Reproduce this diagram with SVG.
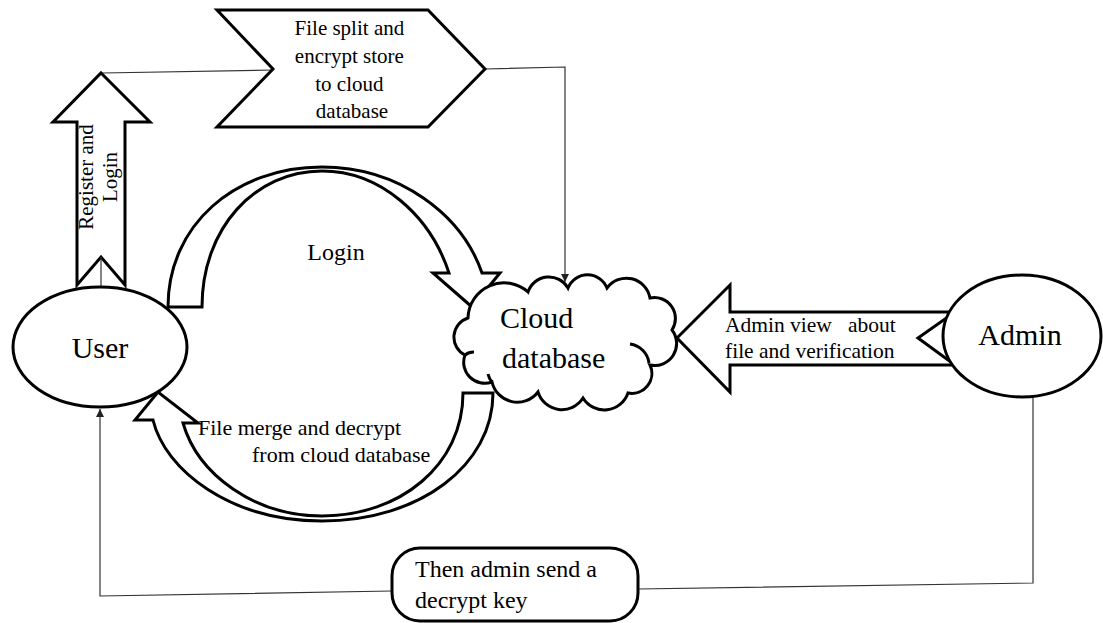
<svg xmlns="http://www.w3.org/2000/svg" width="1103" height="623" viewBox="0 0 1103 623">
  <style>
    .shape { fill: #fff; stroke: #000; stroke-width: 3; stroke-linejoin: miter; }
    .thin { fill: none; stroke: #333; stroke-width: 1.2; }
    .lbl { font-family: "Liberation Serif", "Times New Roman", serif; fill: #000; }
    .big { font-size: 30px; }
  </style>
  <defs>
    <marker id="tip" viewBox="0 0 10 10" refX="10" refY="5" markerWidth="8" markerHeight="8" markerUnits="userSpaceOnUse" orient="auto">
      <path d="M0,0 L10,5 L0,10 Z" fill="#222"/>
    </marker>
  </defs>

  <!-- thin connectors -->
  <g id="connectors">
    <path class="thin" d="M102,73 L273,70"/>
    <path class="thin" d="M485,69 L565,67 L565,282" marker-end="url(#tip)"/>
    <path class="thin" d="M1033,397 L1033,583 L638,589"/>
    <path class="thin" d="M392,591 L100,596 L100,409" marker-end="url(#tip)"/>
  </g>

  <!-- Register and Login block arrow -->
  <g id="register-arrow">
    <path class="shape" d="M101,73 L150,122 L125,122 L125,285 L101,257 L77,285 L77,122 L53,122 Z"/>
    <line x1="101" y1="257" x2="101" y2="287" stroke="#333" stroke-width="1.2"/>
    <text class="lbl" font-size="21" text-anchor="middle" transform="translate(93,177) rotate(-90)">Register and</text>
    <text class="lbl" font-size="21" text-anchor="middle" transform="translate(117,177) rotate(-90)">Login</text>
  </g>

  <!-- File split chevron -->
  <g id="split-chevron">
    <path class="shape" d="M217,10 L428,10 L485,69 L428,127 L217,127 L273,69 Z"/>
    <text class="lbl" font-size="21" text-anchor="middle">
      <tspan x="352" y="35">File split and</tspan>
      <tspan x="352" y="63">encrypt store</tspan>
      <tspan x="352" y="91">to cloud</tspan>
      <tspan x="352" y="118">database</tspan>
    </text>
  </g>

  <!-- Login curved arrow -->
  <g id="login-arrow">
    <path class="shape" d="M168,307 C168,225 235,167 322,167 C400,167 462,215 482,273 L500,273 L472,307 L433,273 L449,273 C430,215 380,171 322,171 C255,171 202,228 202,307 Z"/>
    <text class="lbl" font-size="24" x="336" y="260" text-anchor="middle">Login</text>
  </g>

  <!-- File merge curved arrow -->
  <g id="merge-arrow">
    <path class="shape" d="M463,393 L493,393 C493,465 420,521 322,521 C230,521 165,470 153,420 L135,420 L158,392 L198,423 L183,423 C198,475 255,516 322,516 C400,516 463,465 463,393 Z"/>
    <text class="lbl" font-size="22">
      <tspan x="198" y="435">File merge and decrypt</tspan>
      <tspan x="252" y="462">from cloud database</tspan>
    </text>
  </g>

  <!-- Admin view block arrow -->
  <g id="admin-arrow">
    <path class="shape" d="M677,338 L730,285 L730,312 L955,312 L918,338 L955,365 L730,365 L730,392 Z"/>
    <text class="lbl" font-size="21.5">
      <tspan x="725" y="332">Admin view</tspan><tspan x="848" y="332">about</tspan>
      <tspan x="725" y="358">file and verification</tspan>
    </text>
  </g>

  <!-- Cloud database -->
  <g id="cloud">
    <path class="shape" d="M468,318 A36,36 0 0 1 528,292 A22,22 0 0 1 568,288 A21,21 0 0 1 607,288 A24,24 0 0 1 650,298 A21,21 0 0 1 672,330 A22,22 0 0 1 650,365 A20,20 0 0 1 628,393 A25,25 0 0 1 583,398 A25,25 0 0 1 538,392 A26,26 0 0 1 492,382 A21,21 0 0 1 465,355 A20,20 0 0 1 468,318 Z"/>
    <path d="M630,344 A22,22 0 0 1 649,363" fill="none" stroke="#000" stroke-width="3"/>
    <path d="M492,382 A18,18 0 0 1 488,374" fill="none" stroke="#000" stroke-width="3"/>
    <path d="M465,355 A14,14 0 0 1 474,352" fill="none" stroke="#000" stroke-width="3"/>
    <text class="lbl big" x="500" y="328">Cloud</text>
    <text class="lbl big" x="502" y="368">database</text>
  </g>

  <!-- User -->
  <g id="user">
    <ellipse class="shape" cx="100" cy="347" rx="87" ry="60"/>
    <text class="lbl big" x="100" y="358" text-anchor="middle">User</text>
  </g>

  <!-- Admin -->
  <g id="admin">
    <ellipse class="shape" cx="1022" cy="336" rx="79" ry="61"/>
    <text class="lbl big" x="1020" y="345" text-anchor="middle">Admin</text>
  </g>

  <!-- Decrypt key message -->
  <g id="key-message">
    <rect class="shape" x="392" y="548" width="246" height="73" rx="28" ry="28"/>
    <text class="lbl" font-size="24">
      <tspan x="415" y="577">Then admin send a</tspan>
      <tspan x="415" y="608">decrypt key</tspan>
    </text>
  </g>
</svg>
